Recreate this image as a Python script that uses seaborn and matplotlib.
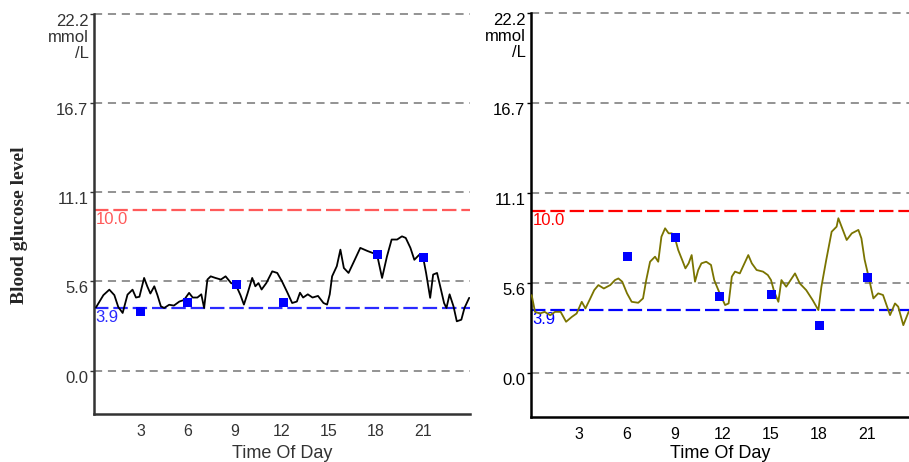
import seaborn as sns
import matplotlib.pyplot as plt
import matplotlib.transforms as mtransforms
from matplotlib.ticker import MultipleLocator

# Leituras aproximadas do gráfico de referência (horas, mmol/L)
horas_esq = [0.13, 0.6, 0.98, 1.3, 1.55, 1.83, 2.14, 2.46, 2.68, 2.9, 3.2, 3.4, 3.6, 3.85, 4.05,
             4.27, 4.48, 4.8, 5.1, 5.45, 5.75, 6.07, 6.3, 6.6, 6.85, 7.03, 7.24, 7.45, 7.75, 8.1,
             8.4, 8.75, 9.05, 9.35, 9.57, 9.8, 10.1, 10.3, 10.5, 10.7, 11.0, 11.38, 11.7, 12.0,
             12.35, 12.65, 12.95, 13.15, 13.35, 13.65, 13.95, 14.3, 14.65, 14.88, 15.05, 15.2,
             15.5, 15.73, 15.95, 16.25, 16.55, 17.0, 17.45, 18.07, 18.39, 18.7, 19.0, 19.35,
             19.66, 19.9, 20.2, 20.45, 20.75, 21.0, 21.2, 21.46, 21.65, 21.9, 22.1, 22.35, 22.5,
             22.7, 22.95, 23.16, 23.45, 23.65, 23.95]
glicose_esq = [3.94, 4.7, 5.04, 4.7, 3.96, 3.59, 4.73, 5.04, 4.55, 4.6, 5.77, 5.25, 4.8, 5.25,
               4.7, 4.0, 3.9, 4.1, 4.05, 4.3, 4.4, 4.84, 4.55, 4.55, 4.75, 3.9, 5.67, 5.87, 5.77,
               5.67, 5.87, 5.45, 5.35, 4.7, 4.11, 4.8, 5.77, 5.25, 5.45, 5.05, 5.45, 6.18, 6.08,
               5.56, 4.85, 4.21, 4.3, 4.85, 4.55, 4.75, 4.55, 4.65, 4.21, 4.11, 4.75, 5.87, 6.5,
               7.53, 6.39, 6.08, 6.7, 7.64, 7.45, 7.22, 5.77, 7.1, 8.16, 8.16, 8.36, 8.26, 7.64,
               6.9, 7.2, 7.1, 6.08, 4.53, 5.98, 6.08, 5.25, 4.2, 3.9, 4.75, 4.0, 3.07, 3.17, 3.9,
               4.53]
medidas_h_esq = [2.95, 5.97, 9.09, 12.08, 18.13, 21.04]
medidas_v_esq = [3.65, 4.21, 5.35, 4.21, 7.22, 7.05]

horas_dir = [0.04, 0.25, 0.55, 0.85, 1.2, 1.5, 1.85, 2.19, 2.55, 2.85, 3.17, 3.4, 3.7, 3.95,
             4.21, 4.55, 4.95, 5.25, 5.46, 5.7, 6.0, 6.29, 6.7, 7.0, 7.2, 7.44, 7.75, 7.95, 8.15,
             8.38, 8.6, 8.8, 9.0, 9.2, 9.45, 9.65, 9.85, 10.04, 10.25, 10.45, 10.65, 10.95, 11.25,
             11.45, 11.75, 12.13, 12.35, 12.55, 12.75, 13.05, 13.58, 13.8, 14.1, 14.5, 14.8, 15.0,
             15.2, 15.46, 15.65, 15.95, 16.5, 16.8, 17.2, 17.6, 17.96, 18.15, 18.45, 18.79, 19.1,
             19.21, 19.45, 19.73, 20.05, 20.46, 20.65, 20.85, 21.1, 21.4, 21.7, 22.0, 22.44,
             22.75, 22.95, 23.27, 23.6]
glicose_dir = [4.81, 3.78, 3.68, 3.78, 3.57, 3.78, 3.78, 3.17, 3.47, 3.68, 4.4, 3.99, 4.6, 5.12,
               5.43, 5.22, 5.43, 5.74, 5.84, 5.64, 4.92, 4.4, 4.34, 4.61, 5.74, 6.87, 7.18, 6.87,
               8.41, 8.93, 8.62, 8.62, 8.31, 7.59, 6.97, 6.46, 6.77, 7.28, 5.64, 6.36, 6.77, 6.87,
               6.67, 5.74, 5.02, 4.2, 4.3, 5.95, 6.26, 6.15, 7.28, 6.77, 6.36, 6.26, 6.05, 5.74,
               5.02, 4.4, 5.74, 5.33, 6.15, 5.53, 5.12, 4.51, 3.89, 5.33, 6.97, 8.72, 9.03, 9.55,
               8.93, 8.21, 8.62, 8.83, 8.31, 7.0, 5.94, 4.61, 4.92, 4.82, 3.58, 4.3, 4.1, 2.96,
               3.78]
medidas_h_dir = [6.04, 9.06, 11.81, 15.04, 18.02, 21.02]
medidas_v_dir = [7.18, 8.35, 4.71, 4.86, 2.92, 5.88]

grade_y = [0.0, 5.55, 11.1, 16.65, 22.2]
rotulos_y = ["0.0", "5.6", "11.1", "16.7", "22.2\nmmol\n/L"]
horas_marcadas = [3, 6, 9, 12, 15, 18, 21]
alvo_alto = 10.0
alvo_baixo = 3.9

sns.set_style("white")
plt.rcParams['font.family'] = ['Liberation Sans', 'DejaVu Sans']

fig = plt.figure(figsize=(9.09, 4.62), dpi=100)
ax_esq = fig.add_axes([0.1034, 0.1039, 0.4136, 0.8658])
ax_dir = fig.add_axes([0.5842, 0.0974, 0.4224, 0.8745])

paineis = [
    (ax_esq, horas_esq, glicose_esq, medidas_h_esq, medidas_v_esq, "black", "#ff5a5a", "#2a2aff", "#333333"),
    (ax_dir, horas_dir, glicose_dir, medidas_h_dir, medidas_v_dir, "#7a7400", "#ff0000", "#0000ff", "black"),
]

for ax, hx, gy, mx, my, cor_linha, cor_alta, cor_baixa, cor_eixo in paineis:
    ax.set_xlim(0, 24)
    ax.set_ylim(-2.7, 22.2)

    # linhas de grade cinzentas tracejadas
    for g in grade_y:
        ax.axhline(g, color="#8a8a8a", lw=1.3, linestyle=(0, (4.5, 3.2)), clip_on=False, zorder=1)
    ax.axhline(alvo_alto, color=cor_alta, lw=1.6, linestyle=(0, (6.5, 2.2)), zorder=2)
    ax.axhline(alvo_baixo, color=cor_baixa, lw=1.6, linestyle=(0, (6.5, 2.2)), zorder=2)

    trans = mtransforms.blended_transform_factory(ax.transAxes, ax.transData)
    ax.text(0.004, alvo_alto - 0.15, f"{alvo_alto:.1f}", color=cor_alta, transform=trans,
            ha="left", va="top", fontsize=12)
    ax.text(0.004, alvo_baixo - 0.15, f"{alvo_baixo:.1f}", color=cor_baixa, transform=trans,
            ha="left", va="top", fontsize=12)

    sns.lineplot(x=hx, y=gy, ax=ax, color=cor_linha, lw=1.3, sort=False, estimator=None, zorder=3)
    sns.scatterplot(x=mx, y=my, ax=ax, color="#0000ff", marker="s", s=42, edgecolor="none", zorder=4)

    ax.set_yticks(grade_y)
    ax.set_yticklabels(rotulos_y, fontsize=12, color=cor_eixo, va="top", linespacing=1.1)
    offset = mtransforms.ScaledTranslation(0, -2 / 100, fig.dpi_scale_trans)
    for lbl in ax.get_yticklabels():
        lbl.set_transform(lbl.get_transform() + offset)

    ax.set_xticks(horas_marcadas)
    ax.set_xticklabels([str(h) for h in horas_marcadas], fontsize=11.5, color=cor_eixo)
    ax.xaxis.set_minor_locator(MultipleLocator(1))
    ax.tick_params(axis="x", which="major", direction="in", length=4, width=1.2, pad=7, colors=cor_eixo)
    ax.tick_params(axis="x", which="minor", direction="in", length=2, width=1.2, colors=cor_eixo)
    ax.tick_params(axis="y", which="major", direction="out", length=3, width=1.0, pad=1, left=True,
                   colors=cor_eixo)

    for lado in ["top", "right"]:
        ax.spines[lado].set_visible(False)
    for lado in ["left", "bottom"]:
        ax.spines[lado].set_color(cor_eixo)
        ax.spines[lado].set_linewidth(1.8)

    ax.set_xlabel("")
    ax.set_ylabel("")
    ax.grid(False)

fig.text(282 / 909, 1 - 453 / 462, "Time Of Day", ha="center", va="center", fontsize=13, color="#333333")
fig.text(720 / 909, 1 - 453 / 462, "Time Of Day", ha="center", va="center", fontsize=13, color="black")
fig.text(20 / 909, 1 - 225 / 462, "Blood glucose level", rotation=90, ha="center", va="center",
         fontsize=14, fontweight="bold", family="Liberation Serif")

fig.savefig("out.png", dpi=100)
